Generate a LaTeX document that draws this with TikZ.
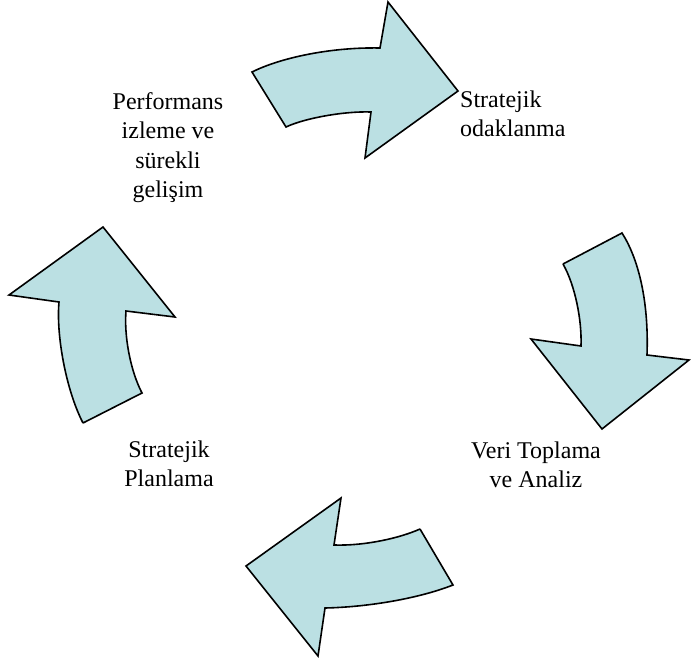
\documentclass[tikz,border=0pt]{standalone}
\usepackage{fontspec}
\setmainfont{Liberation Serif}
\definecolor{arrowfill}{RGB}{187,224,227}
\tikzset{
  cyclearrow/.style={draw=black, fill=arrowfill, line width=1.6pt, line join=miter},
  steplabel/.style={inner sep=0pt, font=\fontsize{24}{29.5}\selectfont}
}
\begin{document}
\begin{tikzpicture}[x=1pt,y=-1pt]
\useasboundingbox (0,0) rectangle (691,662);

% top arrow, pointing right
\draw[cyclearrow] (252,72) .. controls (280,58) and (330,47) .. (380,48)
  -- (388,2) -- (458,91) -- (365,158) -- (371,112)
  .. controls (345,111) and (305,118) .. (286,127) -- cycle;

% right arrow, pointing down
\draw[cyclearrow] (563,264) -- (622,233)
  .. controls (638,258) and (649,300) .. (647,355)
  -- (689,360) -- (602,429) -- (531,339) -- (581,346)
  .. controls (582,320) and (575,285) .. (563,264);

% bottom arrow, pointing left
\draw[cyclearrow] (420,529) -- (453,585)
  .. controls (420,598) and (370,607) .. (325,608)
  -- (318,656) -- (246,566) -- (341,498) -- (334,545)
  .. controls (365,546) and (400,538) .. (420,529);

% left arrow, pointing up
\draw[cyclearrow] (83,423) -- (142,393)
  .. controls (130,370) and (124,335) .. (126,311)
  -- (175,317) -- (103,227) -- (9,295) -- (59,302)
  .. controls (56,335) and (66,390) .. (83,423);

% step labels (base anchor sits on the last line)
\node[steplabel, align=center, anchor=base] (perf) at (168,197.5)
  {Performans\\izleme ve\\sürekli\\gelişim};
\node[steplabel, align=left, anchor=base west] (odak) at (460,136.5)
  {Stratejik\\odaklanma};
\node[steplabel, align=center, anchor=base] (veri) at (536,487.5)
  {Veri Toplama\\ve Analiz};
\node[steplabel, align=center, anchor=base] (plan) at (169,486.5)
  {Stratejik\\Planlama};
\end{tikzpicture}
\end{document}
